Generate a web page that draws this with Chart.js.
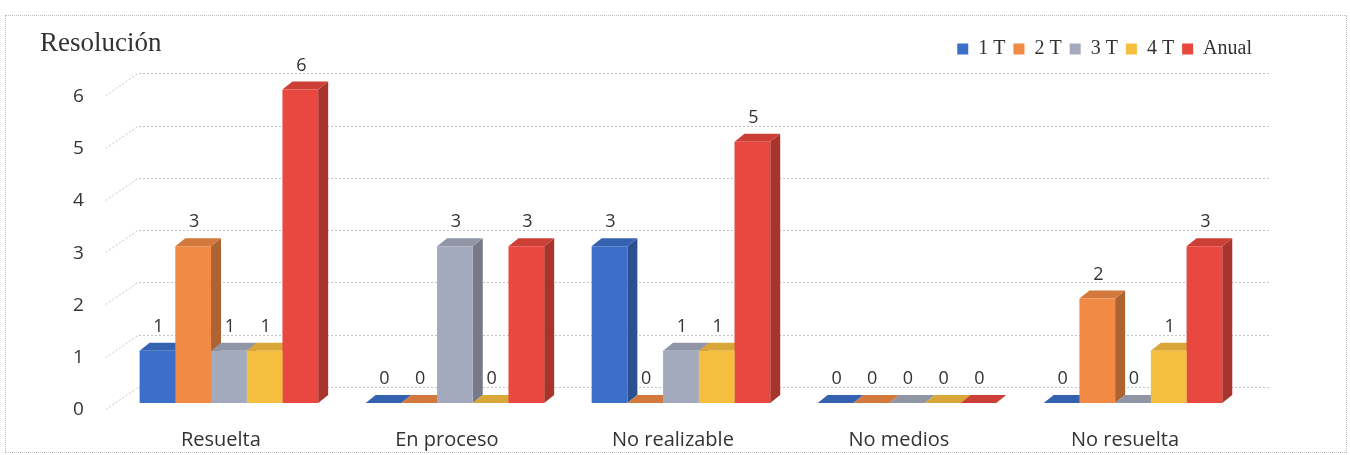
<!DOCTYPE html>
<html>
<head>
<meta charset="utf-8">
<script src="https://cdn.jsdelivr.net/npm/chart.js@4.4.1/dist/chart.umd.min.js"></script>
<style>
body { margin:0; background:#fff; }
#wrap { position:relative; width:1350px; height:455px; overflow:hidden; }
#frame { position:absolute; left:5px; top:15px; width:1340px; height:436px; border:1px dotted #bdbdbd; }
#title { position:absolute; left:40px; top:29px; font-family:"Liberation Serif"; font-size:27px; line-height:1; color:#333; }
#chart { position:absolute; left:0; top:0; }
</style>
</head>
<body>
<div id="wrap">
	<div id="frame"></div>
	<canvas id="chart" width="1350" height="455"></canvas>
	<div id="title">Resolución</div>
</div>
<script>
var categories = ["Resuelta", "En proceso", "No realizable", "No medios", "No resuelta"];
var t1 = [1, 0, 3, 0, 0];
var t2 = [3, 0, 0, 0, 2];
var t3 = [1, 3, 1, 0, 0];
var t4 = [1, 0, 1, 0, 1];
var anual = [6, 3, 5, 0, 3];
var yTicks = [0, 1, 2, 3, 4, 5, 6];

var cols = ["#3b6fc9", "#f08a45", "#a4aabd", "#f5be3e", "#e8483f"];
var DX = 10, DY = -8;

function shade(hex, f)
{
	var r = parseInt(hex.substr(1,2),16), g = parseInt(hex.substr(3,2),16), b = parseInt(hex.substr(5,2),16);
	if (f < 1) { r = r*f; g = g*f; b = b*f; }
	else { r = r + (255-r)*(f-1); g = g + (255-g)*(f-1); b = b + (255-b)*(f-1); }
	return "rgb(" + Math.round(r) + "," + Math.round(g) + "," + Math.round(b) + ")";
}

// back wall grid + depth faces of the bars, value labels on top
var bars3d = {
	id: "bars3d",
	beforeDatasetsDraw: function(chart)
	{
		var ctx = chart.ctx;
		var y = chart.scales.y;
		var area = chart.chartArea;
		ctx.save();
		ctx.strokeStyle = "#c4c4c4";
		ctx.lineWidth = 1;
		ctx.setLineDash([2, 2]);
		for (var k = 0; k < yTicks.length; k++)
		{
			var py = Math.round(y.getPixelForValue(yTicks[k])) + 0.5;
			ctx.beginPath();
			ctx.moveTo(area.left - 10, py + 6);
			ctx.lineTo(area.left + 22, py - 16);
			ctx.lineTo(area.right + 24, py - 16);
			ctx.stroke();
		}
		ctx.setLineDash([]);
		for (var i = 0; i < categories.length; i++)
		{
			for (var d = 0; d < chart.data.datasets.length; d++)
			{
				var c = chart.data.datasets[d].backgroundColor;
				var bar = chart.getDatasetMeta(d).data[i];
				var l = bar.x - bar.width/2, r = bar.x + bar.width/2;
				var top = bar.y, base = bar.base;
				ctx.fillStyle = shade(c, 0.72);
				ctx.beginPath();
				ctx.moveTo(r, top);
				ctx.lineTo(r + DX, top + DY);
				ctx.lineTo(r + DX, base + DY);
				ctx.lineTo(r, base);
				ctx.closePath();
				ctx.fill();
				ctx.fillStyle = shade(c, 0.88);
				ctx.beginPath();
				ctx.moveTo(l, top);
				ctx.lineTo(l + DX, top + DY);
				ctx.lineTo(r + DX, top + DY);
				ctx.lineTo(r, top);
				ctx.closePath();
				ctx.fill();
			}
		}
		ctx.restore();
	},
	afterDatasetsDraw: function(chart)
	{
		var ctx = chart.ctx;
		ctx.save();
		ctx.fillStyle = "#333";
		ctx.font = "18px 'Open Sans'";
		ctx.textAlign = "center";
		ctx.textBaseline = "middle";
		for (var d = 0; d < chart.data.datasets.length; d++)
		{
			var meta = chart.getDatasetMeta(d);
			for (var i = 0; i < meta.data.length; i++)
			{
				var bar = meta.data[i];
				ctx.fillText(String(chart.data.datasets[d].data[i]), bar.x + 1, bar.y - 24);
			}
		}
		ctx.restore();
	}
};

new Chart("chart", {
	type: "bar",
	data: {
		labels: categories,
		datasets: [
			{ label: "1 T", data: t1, backgroundColor: cols[0] },
			{ label: "2 T", data: t2, backgroundColor: cols[1] },
			{ label: "3 T", data: t3, backgroundColor: cols[2] },
			{ label: "4 T", data: t4, backgroundColor: cols[3] },
			{ label: "Anual", data: anual, backgroundColor: cols[4] }
		]
	},
	options: {
		responsive: false,
		animation: false,
		categoryPercentage: 0.79,
		barPercentage: 1,
		layout: { padding: { left: 41, right: 90, top: 31, bottom: -22 } },
		plugins: {
			legend: {
				position: "top",
				align: "end",
				labels: { boxWidth: 11, boxHeight: 11, padding: 8, color: "#333", font: { family: "Liberation Serif", size: 20 } }
			},
			tooltip: { enabled: false }
		},
		scales: {
			x: {
				grid: { display: false, drawTicks: false },
				border: { display: false },
				ticks: { padding: 25, labelOffset: -8, color: "#333", font: { family: "Open Sans", size: 20 } }
			},
			y: {
				min: 0,
				max: 6.39,
				grid: { display: false, drawTicks: false },
				border: { display: false },
				afterBuildTicks: function(scale) { scale.ticks = yTicks.map(function(v) { return { value: v }; }); },
				ticks: { padding: 32, labelOffset: 7, color: "#333", font: { family: "Open Sans", size: 19 } }
			},
			// empty right axis, only keeps room for the bar depth
			y2: {
				position: "right",
				grid: { display: false, drawTicks: false },
				border: { display: false },
				ticks: { display: false },
				afterFit: function(scale) { scale.width = 14; }
			}
		}
	},
	plugins: [bars3d]
});
</script>
</body>
</html>
